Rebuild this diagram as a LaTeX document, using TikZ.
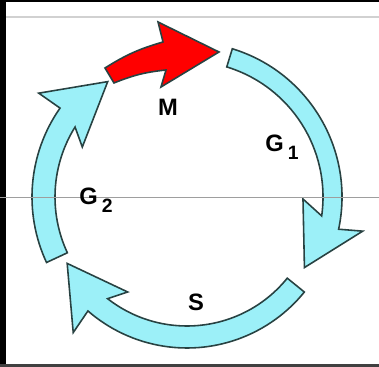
\documentclass[tikz,border=0pt]{standalone}
\usepackage{fontspec}
\setmainfont{Liberation Sans}
\usepackage{xcolor}
\definecolor{cyclecyan}{RGB}{156,240,248}
\definecolor{edgedark}{RGB}{40,66,66}
\definecolor{phasered}{RGB}{255,0,0}
\definecolor{ruleline}{gray}{0.62}
\definecolor{paleline}{gray}{0.82}
\usepackage{tikz}
\usetikzlibrary{positioning}
\tikzset{
  cycarrow/.style={fill=cyclecyan,draw=edgedark,line width=0.9pt},
  mitarrow/.style={fill=phasered,draw=edgedark,line width=0.9pt},
  phaselab/.style={font=\fontsize{13.5}{15}\selectfont\bfseries,inner sep=0pt},
  guide/.style={draw=ruleline,line width=0.5pt},
}
\newcommand{\phasesub}[2]{#1\,\raisebox{-4.5pt}{\fontsize{11}{12}\selectfont #2}}

\begin{document}
\begin{tikzpicture}[x=0.02cm,y=0.02cm]
        \useasboundingbox (0,0) rectangle (379,367);
        \fill[white] (0,0) rectangle (379,367);
        % frame
        \fill[black] (0,0) rectangle (6,367);
        \fill[black] (0,365) rectangle (379,367);
        \fill[black!75] (0,0) rectangle (379,3);
        \draw[paleline,line width=1.2pt] (6,350) -- (379,350);
        % cell cycle, centre of the ring at (187,170)
        \begin{scope}[shift={(187,170)}]
          \draw[cycarrow] (73:155) arc[start angle=73,end angle=-12,radius=155]
            -- (-11:179) -- (-31:137) -- (-1:116) -- (-8:136)
            arc[start angle=-8,end angle=73,radius=136] -- cycle;
          \draw[cycarrow] (-39:151) arc[start angle=-39,end angle=-131,radius=151]
            -- (-130:177) -- (-151:137) -- (-122:112) -- (-128:129)
            arc[start angle=-128,end angle=-39,radius=129] -- cycle;
          \draw[cycarrow] (205:155) arc[start angle=205,end angle=145,radius=155]
            -- (145:181) -- (124.5:140) -- (154.5:116) -- (148:132)
            arc[start angle=148,end angle=205,radius=132] -- cycle;
        \end{scope}
        \draw[mitarrow] (114,284) to[bend left=8] (166,297) -- (161,280)
          -- (219,315) -- (158,345) -- (163,325) to[bend right=8] (105,299) -- cycle;
        \draw[guide] (0,170) -- (379,170);
        % phase labels
        \node[phaselab,anchor=base] (lM) at (168,251) {M};
        \node[phaselab,anchor=base west] (lG1) at (265,215) {\phasesub{G}{1}};
        \node[phaselab,anchor=base west] (lG2) at (79,162) {\phasesub{G}{2}};
        \node[phaselab,anchor=base] (lS) at (196,56) {S};
      \end{tikzpicture}
\end{document}
